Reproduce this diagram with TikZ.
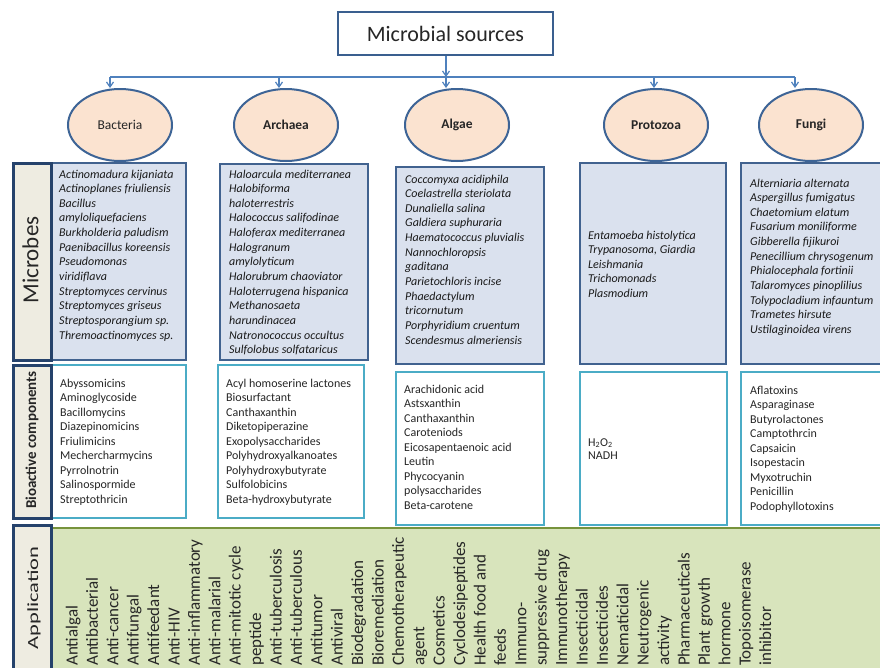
\documentclass[tikz,border=0pt]{standalone}
\usepackage{fontspec}
\setmainfont{Carlito}
\usetikzlibrary{arrows.meta,shapes.geometric}

\definecolor{busblue}{HTML}{4F81BD}
\definecolor{titleblue}{HTML}{3A5F8F}
\definecolor{ovalfill}{HTML}{FBE3D0}
\definecolor{ovaledge}{HTML}{3D6496}
\definecolor{mfill}{HTML}{DAE1EE}
\definecolor{medge}{HTML}{41628F}
\definecolor{bedge}{HTML}{4BACC6}
\definecolor{sidefill}{HTML}{EEECE1}
\definecolor{sideedge}{HTML}{25426B}
\definecolor{appfill}{HTML}{D8E4BC}
\definecolor{appedge}{HTML}{77933C}
\definecolor{ink}{HTML}{262626}

% a column of left-aligned lines whose baseline is the first line
\newcommand\txtcol[1]{\begin{tabular}[t]{@{}l@{}}#1\end{tabular}}

\begin{document}
\begin{tikzpicture}[x=1pt,y=-1pt,
  conn/.style={draw=busblue,line width=1.2pt},
  tip/.style={-{Straight Barb[length=5pt,width=7pt]}},
  titlebox/.style={draw=titleblue,line width=2pt,fill=white,minimum width=215pt,
    minimum height=43pt,font=\fontsize{22}{26}\selectfont,text=ink},
  src/.style={ellipse,draw=ovaledge,line width=2pt,fill=ovalfill,minimum width=104pt,
    minimum height=72pt,inner sep=0pt,text=ink,font=\fontsize{13.5}{16}\selectfont\bfseries},
  cell/.style={rectangle,anchor=north west,inner sep=0pt,line width=2pt},
  mbox/.style={cell,draw=medge,fill=mfill},
  bbox/.style={cell,draw=bedge,fill=white},
  sidebox/.style={cell,draw=sideedge,fill=sidefill,line width=2.5pt},
  species/.style={anchor=base west,inner sep=0pt,text=black!90,
    font=\fontsize{12}{14.65}\selectfont\itshape},
  compound/.style={anchor=base west,inner sep=0pt,text=ink,
    font=\fontsize{12}{14.55}\selectfont},
  sidetext/.style={rotate=90,inner sep=0pt,text=ink},
  apptext/.style={rotate=90,anchor=base west,inner sep=0pt,text=ink,
    font=\fontsize{17}{20}\selectfont}]

\clip (0,0) rectangle (880,667);
\fill[white] (0,0) rectangle (880,667);

% source and its branches
\node[titlebox] (title) at (445.5,33.5) {Microbial sources};

\node[src,font=\fontsize{13.5}{16}\selectfont] (bac) at (120,125) {Bacteria};
\node[src] (arc) at (286,125) {Archaea};
\node[src] (alg) at (457,125) {Algae};
\node[src] (pro) at (656,125) {Protozoa};
\node[src] (fun) at (811,125) {Fungi};

\coordinate (bus1) at (110,77);
\coordinate (bus2) at (279,77);
\coordinate (bus3) at (446,77);
\coordinate (bus4) at (654,77);
\coordinate (bus5) at (795,77);

\draw[conn] (bus1) -- (bus5);
\draw[conn,tip] (title.south -| bus3) -- (bus3);
\draw[conn,tip] (bus1) -- (bus1 |- bac.north);
\draw[conn,tip] (bus2) -- (bus2 |- arc.north);
\draw[conn,tip] (bus3) -- (bus3 |- alg.north);
\draw[conn,tip] (bus4) -- (bus4 |- pro.north);
\draw[conn,tip] (bus5) -- (bus5 |- fun.north);

% row: microbes
\node[mbox,minimum width=135pt,minimum height=197pt] (bacM) at (50,162) {};
\node[mbox,minimum width=148pt,minimum height=196pt] (arcM) at (219,163) {};
\node[mbox,minimum width=148pt,minimum height=197pt] (algM) at (395,166) {};
\node[mbox,minimum width=146pt,minimum height=201pt] (proM) at (579,162) {};
\node[mbox,minimum width=150pt,minimum height=201pt] (funM) at (740,162) {};
\node[sidebox,minimum width=38pt,minimum height=197pt] (labM) at (12,162) {};
\node[sidetext,font=\fontsize{23}{26}\selectfont] (labMt) at (30.5,260) {Microbes};

\node[species] (bacMt) at (59,178) {\txtcol{Actinomadura kijaniata\\Actinoplanes friuliensis\\
  Bacillus\\amyloliquefaciens\\Burkholderia paludism\\Paenibacillus koreensis\\
  Pseudomonas\\viridiflava\\Streptomyces cervinus\\Streptomyces griseus\\
  Streptosporangium sp.\\Thremoactinomyces sp.}};
\node[species] (arcMt) at (229,178) {\txtcol{Haloarcula mediterranea\\Halobiforma\\
  haloterrestris\\Halococcus salifodinae\\Haloferax mediterranea\\Halogranum\\
  amylolyticum\\Halorubrum chaoviator\\Haloterrugena hispanica\\Methanosaeta\\
  harundinacea\\Natronococcus occultus\\Sulfolobus solfataricus}};
\node[species] (algMt) at (405,183) {\txtcol{Coccomyxa acidiphila\\Coelastrella steriolata\\
  Dunaliella salina\\Galdiera suphuraria\\Haematococcus pluvialis\\Nannochloropsis\\
  gaditana\\Parietochloris incise\\Phaedactylum\\tricornutum\\
  Porphyridium cruentum\\Scendesmus almeriensis}};
\node[species] (proMt) at (588,239) {\txtcol{Entamoeba histolytica\\Trypanosoma, Giardia\\
  Leishmania\\Trichomonads\\Plasmodium}};
\node[species] (funMt) at (750,187) {\txtcol{Alterniaria alternata\\Aspergillus fumigatus\\
  Chaetomium elatum\\Fusarium moniliforme\\Gibberella fijikuroi\\Penecillium chrysogenum\\
  Phialocephala fortinii\\Talaromyces pinoplilius\\Tolypocladium infauntum\\
  Trametes hirsute\\Ustilaginoidea virens}};

% row: bioactive components
\node[bbox,minimum width=134pt,minimum height=153pt] (bacB) at (51,364) {};
\node[bbox,minimum width=146pt,minimum height=153pt] (arcB) at (217,364) {};
\node[bbox,minimum width=148pt,minimum height=153pt] (algB) at (395,371) {};
\node[bbox,minimum width=147pt,minimum height=153pt] (proB) at (579,371) {};
\node[bbox,minimum width=150pt,minimum height=153pt] (funB) at (740,371) {};
\node[sidebox,minimum width=38pt,minimum height=153pt] (labB) at (12,364) {};
\node[sidetext,font=\fontsize{15}{18}\selectfont\bfseries] (labBt) at (32,440) {Bioactive components};

\node[compound] (bacBt) at (60,387) {\txtcol{Abyssomicins\\Aminoglycoside\\Bacillomycins\\
  Diazepinomicins\\Friulimicins\\Mechercharmycins\\Pyrrolnotrin\\Salinospormide\\Streptothricin}};
\node[compound] (arcBt) at (226,387) {\txtcol{Acyl homoserine lactones\\Biosurfactant\\
  Canthaxanthin\\Diketopiperazine\\Exopolysaccharides\\Polyhydroxyalkanoates\\
  Polyhydroxybutyrate\\Sulfolobicins\\Beta-hydroxybutyrate}};
\node[compound] (algBt) at (404,393) {\txtcol{Arachidonic acid\\Astsxanthin\\Canthaxanthin\\
  Caroteniods\\Eicosapentaenoic acid\\Leutin\\Phycocyanin\\polysaccharides\\Beta-carotene}};
\node[compound,font=\fontsize{12}{13.5}\selectfont] (proBt) at (588,446)
  {\txtcol{H\textsubscript{2}O\textsubscript{2}\\NADH}};
\node[compound] (funBt) at (750,394) {\txtcol{Aflatoxins\\Asparaginase\\Butyrolactones\\
  Camptothrcin\\Capsaicin\\Isopestacin\\Myxotruchin\\Penicillin\\Podophyllotoxins}};

% row: application
\node[cell,draw=appedge,fill=appfill,minimum width=840pt,minimum height=160pt] (appA) at (50,527) {};
\node[sidebox,minimum width=38pt,minimum height=160pt] (labA) at (12,524) {};
\node[sidetext,font=\fontsize{15.5}{19}\selectfont] (labAt) at (34,598) {\scalebox{1.45}[1]{Application}};

\foreach \t [count=\i from 0] in {Antialgal,Antibacterial,Anti-cancer,Antifungal,
  Antifeedant,Anti-HIV,Anti-inflammatory,Anti-malarial,Anti-mitotic cycle,peptide,
  Anti-tuberculosis,Anti-tuberculous,Antitumor,Antiviral,Biodegradation,Bioremediation,
  Chemotherapeutic,agent,Cosmetics,Cyclodesipeptides,Health food and,feeds,Immuno-,
  suppressive drug,Immunotherapy,Insecticidal,Insecticides,Nematicidal,Neutrogenic,
  activity,Pharmaceuticals,Plant growth,hormone,Topoisomerase,inhibitor}
  {\node[apptext] (app\i) at ({77.5+20.4*\i},666) {\t};}

\end{tikzpicture}
\end{document}
